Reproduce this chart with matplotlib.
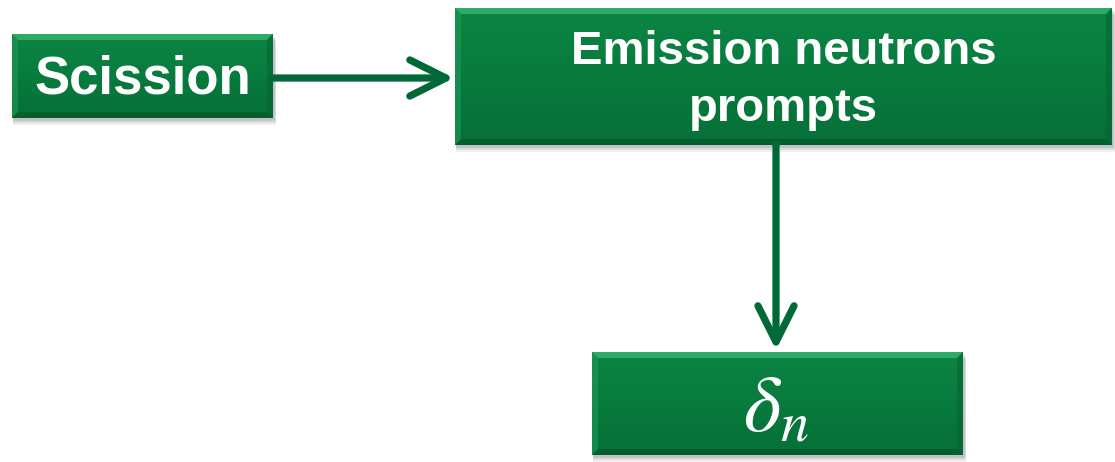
import numpy as np
import matplotlib
matplotlib.use("Agg")
import matplotlib.pyplot as plt
from matplotlib.patches import Rectangle, Polygon
from matplotlib.colors import LinearSegmentedColormap

# boxes of the flow diagram (label, left, top, right, bottom) in pixel coords
box_labels = ["Scission", "Emission neutrons\nprompts", r"$\delta_n$"]
box_left = [12, 455, 592]
box_top = [34, 8, 352]
box_right = [273, 1112, 963]
box_bottom = [118, 145, 455]
box_fontsize = [38, 34, 58]

# arrows: from box index -> to box index
links = [(0, 1), (1, 2)]

green = "#087a3d"
arrow_col = "#006937"

fig = plt.figure(figsize=(11.15, 4.62), dpi=100)
ax = fig.add_axes([0, 0, 1, 1])
ax.set_xlim(0, 1115)
ax.set_ylim(462, 0)
ax.axis("off")

grad = LinearSegmentedColormap.from_list("g", ["#0b8544", "#087b3e", "#067038"])


def draw_box(x0, y0, x1, y1):
    # soft shadow
    for k, a in [(7, 0.06), (5, 0.08), (3, 0.12)]:
        ax.add_patch(Rectangle((x0 + 1, y0 + k), x1 - x0 + k * 0.3, y1 - y0,
                               fc="black", ec="none", alpha=a, zorder=1))
    rect = Rectangle((x0, y0), x1 - x0, y1 - y0, fc=green, ec="none", zorder=2)
    ax.add_patch(rect)
    img = ax.imshow(np.linspace(0, 1, 50).reshape(-1, 1), cmap=grad, aspect="auto",
                    extent=(x0, x1, y1, y0), zorder=2.1)
    img.set_clip_path(rect)
    b = 6
    # bevel edges
    ax.add_patch(Polygon([(x0, y0), (x1, y0), (x1 - b, y0 + b), (x0 + b, y0 + b)],
                         fc="#3cbd73", ec="none", alpha=0.7, zorder=2.2))
    ax.add_patch(Polygon([(x0, y0), (x0 + b, y0 + b), (x0 + b, y1 - b), (x0, y1)],
                         fc="#1f9a55", ec="none", alpha=0.6, zorder=2.2))
    ax.add_patch(Polygon([(x1, y0), (x1 - b, y0 + b), (x1 - b, y1 - b), (x1, y1)],
                         fc="#056532", ec="none", alpha=0.6, zorder=2.2))
    ax.add_patch(Polygon([(x0, y1), (x0 + b, y1 - b), (x1 - b, y1 - b), (x1, y1)],
                         fc="#04592b", ec="none", alpha=0.7, zorder=2.2))


for i, lab in enumerate(box_labels):
    draw_box(box_left[i], box_top[i], box_right[i], box_bottom[i])
    cx = (box_left[i] + box_right[i]) / 2
    cy = (box_top[i] + box_bottom[i]) / 2
    if lab.startswith("$"):
        ax.text(cx - 2, cy + 6, lab, color="white", fontsize=box_fontsize[i],
                ha="center", va="center", math_fontfamily="stix", zorder=3)
    else:
        ax.text(cx, cy + 4, lab, color="white", fontsize=box_fontsize[i], fontweight="bold",
                family="Liberation Sans", ha="center", va="center",
                linespacing=1.4, zorder=3)

# arrows
aprops = dict(arrowstyle="->,head_length=2.6,head_width=1.3", lw=5.2,
              color=arrow_col, shrinkA=0, shrinkB=0, capstyle="round", joinstyle="round")
a, b = links[0]
ymid = (box_top[a] + box_bottom[a]) / 2 + 2
ax.annotate("", xy=(box_left[b] - 1, ymid), xytext=(box_right[a], ymid),
            arrowprops=aprops, zorder=4)
a, b = links[1]
xmid = 776
ax.annotate("", xy=(xmid, box_top[b] - 2), xytext=(xmid, box_bottom[a]),
            arrowprops=aprops, zorder=4)

fig.savefig("out.png", dpi=100)
